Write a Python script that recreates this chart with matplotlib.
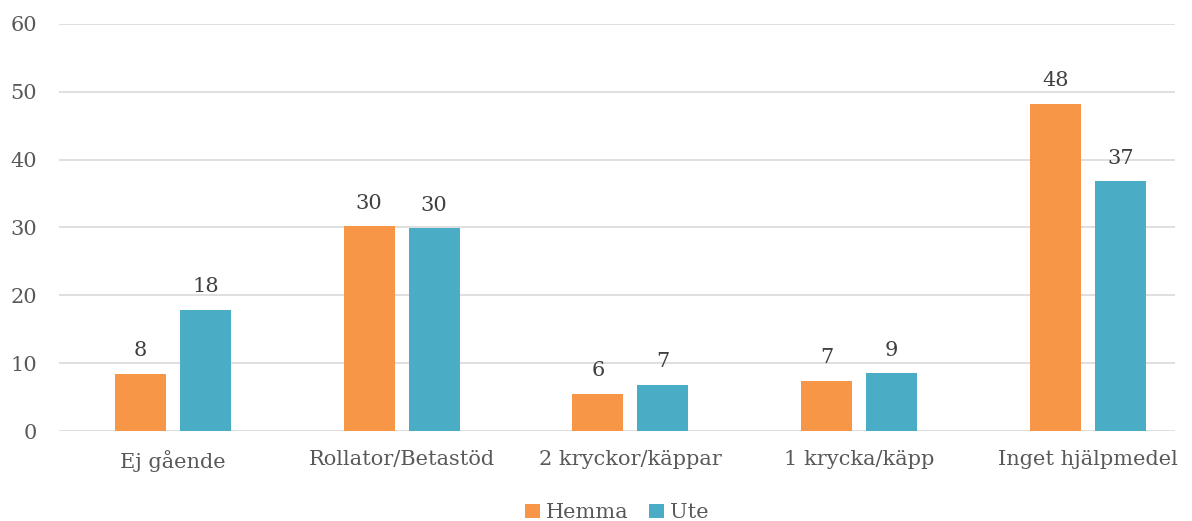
import numpy as np
import matplotlib.pyplot as plt

plt.rcParams['font.family'] = ['DejaVu Serif']

categories = ['Ej gående', 'Rollator/Betastöd', '2 kryckor/käppar', '1 krycka/käpp', 'Inget hjälpmedel']
hemma = [8.4, 30.2, 5.5, 7.4, 48.2]
ute = [17.9, 29.9, 6.8, 8.5, 36.8]
hemma_labels = ['8', '30', '6', '7', '48']
ute_labels = ['18', '30', '7', '9', '37']

txt = '#595959'
fig = plt.figure(figsize=(11.92, 5.21), dpi=100)
ax = fig.add_axes([0.0495, 0.1727, 0.9362, 0.7813])

x = np.arange(len(categories))
w = 0.223
b1 = ax.bar(x - 0.142, hemma, w, color='#F79646', label='Hemma', zorder=3)
b2 = ax.bar(x + 0.142, ute, w, color='#4BACC6', label='Ute', zorder=3)

for bars, labs in [(b1, hemma_labels), (b2, ute_labels)]:
    for r, l in zip(bars, labs):
        ax.text(r.get_x() + r.get_width() / 2, r.get_height() + 2.0, l,
                ha='center', va='bottom', fontsize=15, color='#404040')

ax.set_xlim(-0.498, 4.38)
ax.set_ylim(0, 60)
ax.set_yticks(range(0, 61, 10))
ax.set_xticks(x)
ax.set_xticklabels(categories)
ax.tick_params(axis='both', length=0, labelsize=15, labelcolor=txt)
ax.tick_params(axis='x', pad=14)
ax.tick_params(axis='y', pad=16)
ax.grid(axis='y', color='#D9D9D9', linewidth=1.2, zorder=0)
for s in ax.spines.values():
    s.set_visible(False)

leg = ax.legend(loc='lower center', bbox_to_anchor=(0.5, -0.27), ncol=2, frameon=False,
                fontsize=15, handlelength=0.7, handleheight=0.7, handletextpad=0.3,
                columnspacing=1.0, labelcolor=txt)

fig.savefig('out.png', dpi=100)
